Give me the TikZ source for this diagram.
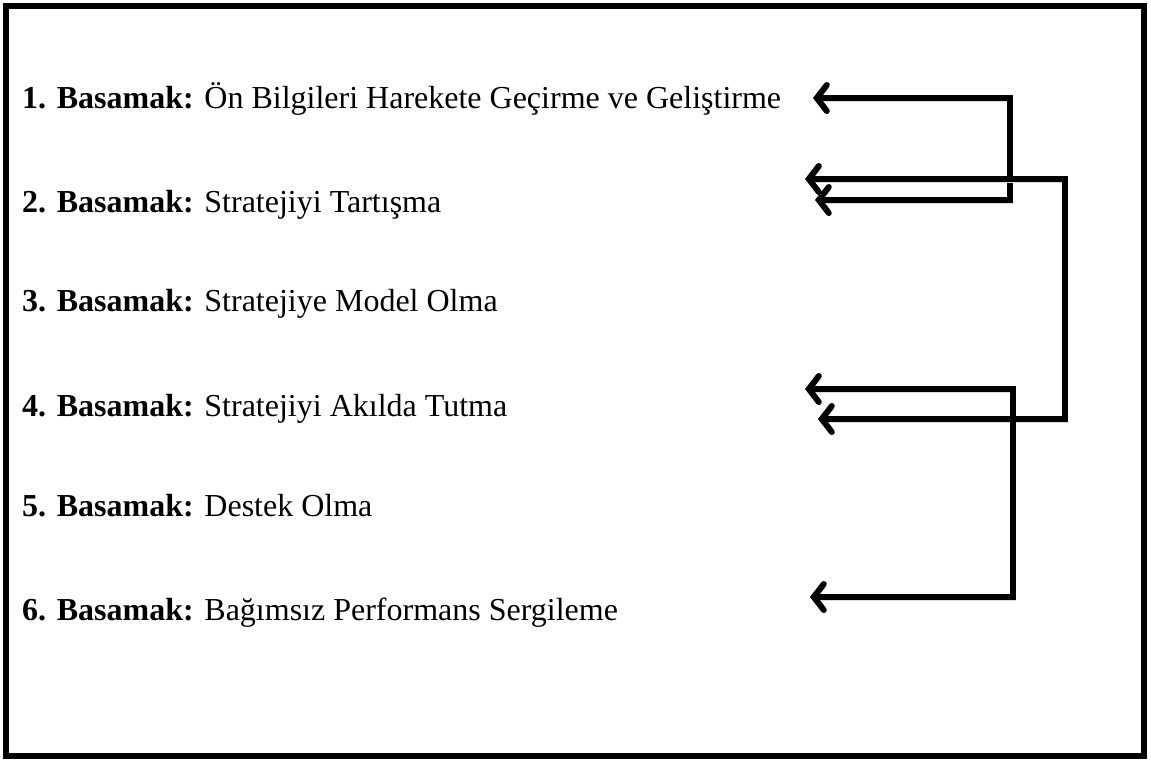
\documentclass[tikz,border=0pt]{standalone}
\usepackage{fontspec}
\setmainfont{Liberation Serif}
\usetikzlibrary{arrows.meta}

\begin{document}
\begin{tikzpicture}[x=1pt,y=-1pt]
  \tikzstyle{every node}=[anchor=base west,inner sep=0pt,font=\fontsize{32}{38}\selectfont]
  \tikzstyle{link}=[line width=6pt,{Straight Barb[length=10pt,width=26pt,line cap=round]}-{Straight Barb[length=10pt,width=26pt,line cap=round]},
    preaction={draw=black!15,transform canvas={shift={(2pt,-3pt)}}}]

  \useasboundingbox (0,0) rectangle (1151,763);
  \draw[line width=6pt] (6,6) rectangle (1144,756);

  % Define the steps
  \foreach \n/\y/\txt in {1/108/Ön Bilgileri Harekete Geçirme ve Geliştirme,
                          2/212/Stratejiyi Tartışma,
                          3/311/Stratejiye Model Olma,
                          4/416/Stratejiyi Akılda Tutma,
                          5/516/Destek Olma,
                          6/620/Bağımsız Performans Sergileme} {
    \node (step\n) at (22,\y) {\textbf{\n. Basamak:} \txt};
  }

  % Define the arrow ends
  \coordinate (aTop) at (813,98);
  \coordinate (aMid) at (1010,150);
  \coordinate (aBot) at (815,200);
  \coordinate (bTop) at (805,179);
  \coordinate (bMid) at (1065,300);
  \coordinate (bBot) at (818,419);
  \coordinate (cTop) at (805,389);
  \coordinate (cMid) at (1013,490);
  \coordinate (cBot) at (810,597);

  % Draw the brackets
  \foreach \a in {a,b,c} {
    \draw[link] (\a Top) -| (\a Mid) |- (\a Bot);
  }
\end{tikzpicture}
\end{document}
